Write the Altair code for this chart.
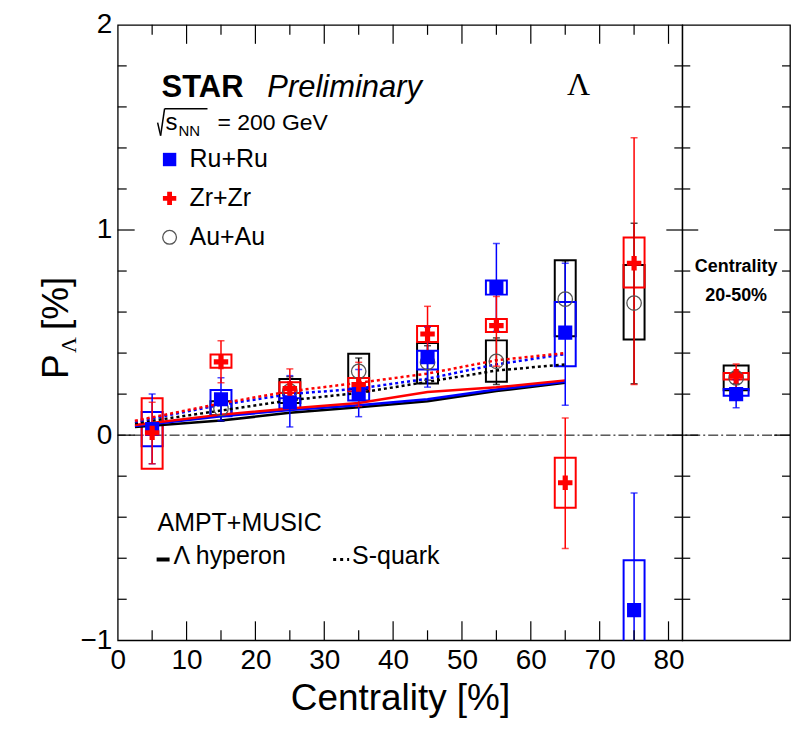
import altair as alt
import pandas as pd

# ---------------- data ----------------
cent = [5, 15, 25, 35, 45, 55, 65, 75]

ru_val     = [0.030, 0.175, 0.160, 0.200, 0.380, 0.720, 0.500, -0.853]
ru_stat_lo = [-0.140, 0.070, 0.040, 0.090, 0.234, 0.506, 0.146, -1.420]
ru_stat_hi = [0.200, 0.280, 0.290, 0.320, 0.526, 0.934, 0.838, -0.282]
ru_sys_lo  = [-0.054, 0.092, 0.130, 0.169, 0.320, 0.685, 0.336, -1.100]
ru_sys_hi  = [0.113, 0.220, 0.180, 0.227, 0.412, 0.754, 0.649, -0.610]

zr_val     = [0.011, 0.357, 0.227, 0.247, 0.493, 0.534, -0.232, 0.838]
zr_stat_lo = [-0.140, 0.255, 0.136, 0.140, 0.352, 0.336, -0.553, 0.247]
zr_stat_hi = [0.160, 0.460, 0.323, 0.355, 0.628, 0.676, 0.084, 1.450]
zr_sys_lo  = [-0.164, 0.328, 0.206, 0.214, 0.454, 0.503, -0.354, 0.720]
zr_sys_hi  = [0.180, 0.393, 0.258, 0.279, 0.532, 0.566, -0.110, 0.963]

au_cent    = [15, 25, 35, 45, 55, 65, 75]
au_val     = [0.130, 0.215, 0.311, 0.355, 0.360, 0.663, 0.644]
au_stat_lo = [0.068, 0.145, 0.246, 0.268, 0.247, 0.474, 0.250]
au_stat_hi = [0.200, 0.285, 0.376, 0.436, 0.474, 0.850, 1.033]
au_sys_lo  = [0.097, 0.157, 0.225, 0.252, 0.260, 0.482, 0.466]
au_sys_hi  = [0.165, 0.274, 0.397, 0.449, 0.462, 0.852, 0.830]

# centrality-integrated (20-50%) values
avg_bin     = ["20-50%"]
ru_avg      = [0.200]
ru_avg_stat = ([0.133], [0.270])
ru_avg_sys  = ([0.192], [0.225])
zr_avg      = [0.287]
zr_avg_stat = ([0.214], [0.347])
zr_avg_sys  = ([0.271], [0.303])
au_avg      = [0.279]
au_avg_stat = ([0.250], [0.310])
au_avg_sys  = ([0.219], [0.339])

# AMPT+MUSIC model curves
model_cent = [2.5, 15, 25, 35, 45, 55, 65]
hyp_ru    = [0.045, 0.092, 0.122, 0.146, 0.175, 0.222, 0.260]
hyp_zr    = [0.050, 0.100, 0.130, 0.157, 0.210, 0.233, 0.267]
hyp_au    = [0.040, 0.071, 0.109, 0.136, 0.165, 0.215, 0.255]
squark_ru = [0.065, 0.148, 0.200, 0.227, 0.275, 0.345, 0.395]
squark_zr = [0.070, 0.155, 0.214, 0.255, 0.300, 0.365, 0.400]
squark_au = [0.058, 0.120, 0.170, 0.206, 0.260, 0.315, 0.345]

# axis tick values
x_labels = [0, 10, 20, 30, 40, 50, 60, 70, 80]
x_major = [10, 20, 30, 40, 50, 60, 70, 80]
x_minor = [5, 15, 25, 35, 45, 55, 65, 75]
y_labels = [-1, 0, 1, 2]
y_major = [0, 1]
y_minor = [-0.8, -0.6, -0.4, -0.2, 0.2, 0.4, 0.6, 0.8, 1.2, 1.4, 1.6, 1.8]

# ---------------- styling ----------------
W, H, WR = 566, 617, 108
BLUE, RED, GREY = "#0000ff", "#ff0000", "#555555"
FONT = "Liberation Sans"
SERIF = "Liberation Serif"
CROSS = "M-0.36,-1H0.36V-0.36H1V0.36H0.36V1H-0.36V0.36H-1V-0.36H-0.36Z"

xs = alt.Scale(domain=[0, 82], nice=False, zero=False, padding=0)
ys = alt.Scale(domain=[-1, 2], nice=False, zero=False, padding=0)
one = pd.DataFrame({"k": [0]})

AX_X = alt.Axis(values=x_labels, title="Centrality [%]", titleFontSize=37,
                titleFontWeight="normal", titlePadding=6, labelFontSize=28,
                labelPadding=6, ticks=False, domain=False, grid=False, labelFlush=False)
AX_Y = alt.Axis(values=y_labels, title=None, labelFontSize=28, labelPadding=6,
                ticks=False, domain=False, grid=False, labelFlush=False)


def mk_enc(main):
    ax_x = AX_X if main else None
    ax_y = AX_Y if main else None

    def X(f="x:Q"):
        return alt.X(f, scale=xs, axis=ax_x)

    def Y(f):
        return alt.Y(f, scale=ys, axis=ax_y)
    return X, Y


Xm, Ym = mk_enc(True)
Xr_unused, Yr = mk_enc(False)


def sdf(x, v, slo, shi, ylo, yhi):
    return pd.DataFrame({"x": x, "v": v, "slo": slo, "shi": shi, "ylo": ylo, "yhi": yhi})


def boxes(df, color, xenc, Y, width):
    return alt.Chart(df).mark_bar(width=width, fillOpacity=0, stroke=color,
                                  strokeWidth=2, clip=True).encode(
        x=xenc, y=Y("ylo:Q"), y2="yhi:Q")


def errbars(df, color, xenc, Y):
    rule = alt.Chart(df).mark_rule(color=color, strokeWidth=1.5, clip=True).encode(
        x=xenc, y=Y("slo:Q"), y2="shi:Q")
    lo = alt.Chart(df).mark_tick(orient="horizontal", size=7, thickness=1.5,
                                 color=color, clip=True).encode(x=xenc, y=Y("slo:Q"))
    hi = alt.Chart(df).mark_tick(orient="horizontal", size=7, thickness=1.5,
                                 color=color, clip=True).encode(x=xenc, y=Y("shi:Q"))
    return [rule, lo, hi]


def markers(df, kind, xenc, Y):
    if kind == "ru":
        m = alt.Chart(df).mark_point(shape="square", filled=True, size=200,
                                     color=BLUE, opacity=1, clip=True)
    elif kind == "zr":
        m = alt.Chart(df).mark_point(shape=CROSS, filled=True, size=210,
                                     color=RED, opacity=1, clip=True)
    else:
        m = alt.Chart(df).mark_point(shape="circle", filled=False, size=210,
                                     color=GREY, strokeWidth=1.3, opacity=1, clip=True)
    return m.encode(x=xenc, y=Y("v:Q"))


def model_line(vals, color, dash=None):
    df = pd.DataFrame({"x": model_cent, "y": vals})
    mk = dict(color=color, strokeWidth=2.5, clip=True)
    if dash:
        mk["strokeDash"] = dash
    return alt.Chart(df).mark_line(**mk).encode(x=Xm(), y=Ym("y:Q"))


def ticks_y(values, x0, x1, Y):
    return alt.Chart(pd.DataFrame({"v": values})).mark_rule(
        color="black", strokeWidth=1.2).encode(y=Y("v:Q"), x=alt.value(x0), x2=alt.value(x1))


def ticks_x(values, y0, y1):
    return alt.Chart(pd.DataFrame({"x": values})).mark_rule(
        color="black", strokeWidth=1.2).encode(x=Xm("x:Q"), y=alt.value(y0), y2=alt.value(y1))


def label(text, x, y, size, font=FONT, weight="normal", style="normal",
          align="left", baseline="alphabetic", angle=0):
    mk = dict(text=text, fontSize=size, font=font, fontWeight=weight,
              fontStyle=style, align=align, baseline=baseline, color="black")
    if angle:
        mk["angle"] = angle
    return alt.Chart(one).mark_text(**mk).encode(x=alt.value(x), y=alt.value(y))


def seg(x0, y0, x1, y1, width=1.5, dash=None, color="black"):
    mk = dict(color=color, strokeWidth=width)
    if dash:
        mk["strokeDash"] = dash
    return alt.Chart(one).mark_rule(**mk).encode(
        x=alt.value(x0), x2=alt.value(x1), y=alt.value(y0), y2=alt.value(y1))


def legend_marker(shape, x, y, filled, color, size=200):
    kw = dict(shape=shape, filled=filled, size=size, color=color, opacity=1)
    if not filled:
        kw["strokeWidth"] = 1.3
    return alt.Chart(one).mark_point(**kw).encode(x=alt.value(x), y=alt.value(y))


# ---------------- main panel ----------------
ru_df = sdf(cent, ru_val, ru_stat_lo, ru_stat_hi, ru_sys_lo, ru_sys_hi)
zr_df = sdf(cent, zr_val, zr_stat_lo, zr_stat_hi, zr_sys_lo, zr_sys_hi)
au_df = sdf(au_cent, au_val, au_stat_lo, au_stat_hi, au_sys_lo, au_sys_hi)

zero_main = alt.Chart(one).mark_rule(color="black", strokeWidth=1,
                                     strokeDash=[10, 3, 2, 3]).encode(
    y=alt.Y(datum=0, scale=ys, axis=AX_Y))

main_layers = [zero_main]
main_layers += [boxes(au_df, "black", Xm(), Ym, 21), boxes(ru_df, BLUE, Xm(), Ym, 21),
                boxes(zr_df, RED, Xm(), Ym, 21)]
main_layers += [model_line(hyp_au, "black"), model_line(hyp_ru, BLUE),
                model_line(hyp_zr, RED),
                model_line(squark_au, "black", [3, 3]),
                model_line(squark_ru, BLUE, [3, 3]),
                model_line(squark_zr, RED, [3, 3])]
main_layers += (errbars(au_df, "black", Xm(), Ym) + errbars(ru_df, BLUE, Xm(), Ym)
                + errbars(zr_df, RED, Xm(), Ym))
main_layers += [markers(au_df, "au", Xm(), Ym), markers(ru_df, "ru", Xm(), Ym),
                markers(zr_df, "zr", Xm(), Ym)]

# frame ticks (inward)
main_layers += [ticks_y(y_major, 0, 17, Ym), ticks_y(y_minor, 0, 9, Ym),
                ticks_y(y_major, W - 16, W, Ym), ticks_y(y_minor, W - 8, W, Ym),
                ticks_x(x_major, 0, 19), ticks_x(x_minor, 0, 10),
                ticks_x(x_major, H - 19, H), ticks_x(x_minor, H - 10, H)]

# texts
main_layers += [
    label("STAR", 44, 72, 31, weight="bold"),
    label("Preliminary", 150, 72, 31, style="italic"),
    seg(40, 98, 43, 111), seg(43, 111, 47, 84), seg(47, 84, 90, 84),
    label("s", 48, 105, 24),
    label("NN", 61, 111, 15),
    label("= 200 GeV", 100, 105, 23),
    legend_marker("square", 52, 135, True, BLUE, 180),
    label("Ru+Ru", 72, 143, 25),
    legend_marker(CROSS, 52, 174, True, RED, 180),
    label("Zr+Zr", 72, 182, 25),
    legend_marker("circle", 52, 213, False, GREY, 190),
    label("Au+Au", 72, 221, 25),
    label("Λ", 462, 70, 32, font=SERIF, align="center"),
    label("AMPT+MUSIC", 40, 507, 25),
    seg(39, 536, 52, 536, width=4),
    label("Λ hyperon", 56, 541, 25, font=FONT),
    seg(216, 536, 232, 536, width=3, dash=[3, 4]),
    label("S-quark", 235, 541, 25),
    # y-axis title  P_Λ [%]
    label("P", -50, 355, 37, angle=270),
    label("Λ", -42, 329, 22, font=SERIF, angle=270),
    label("[%]", -50, 306, 37, angle=270),
]

main = alt.layer(*main_layers).properties(width=W, height=H)

# ---------------- right panel (20-50%) ----------------
XR = alt.X("c:N", axis=None, scale=alt.Scale(domain=avg_bin))


def adf(v, stat, sys):
    return pd.DataFrame({"c": avg_bin, "v": v, "slo": stat[0], "shi": stat[1],
                         "ylo": sys[0], "yhi": sys[1]})


ru_a = adf(ru_avg, ru_avg_stat, ru_avg_sys)
zr_a = adf(zr_avg, zr_avg_stat, zr_avg_sys)
au_a = adf(au_avg, au_avg_stat, au_avg_sys)

zero_r = alt.Chart(one).mark_rule(color="black", strokeWidth=1,
                                  strokeDash=[10, 3, 2, 3]).encode(
    y=alt.Y(datum=0, scale=ys, axis=None))

right_layers = [zero_r,
                boxes(au_a, "black", XR, Yr, 25), boxes(ru_a, BLUE, XR, Yr, 25),
                boxes(zr_a, RED, XR, Yr, 25)]
right_layers += (errbars(au_a, "black", XR, Yr) + errbars(ru_a, BLUE, XR, Yr)
                 + errbars(zr_a, RED, XR, Yr))
right_layers += [markers(au_a, "au", XR, Yr), markers(ru_a, "ru", XR, Yr),
                 markers(zr_a, "zr", XR, Yr)]
right_layers += [ticks_y(y_major, 0, 16, Yr), ticks_y(y_minor, 0, 8, Yr),
                 ticks_y(y_major, WR - 16, WR, Yr), ticks_y(y_minor, WR - 8, WR, Yr)]
right_layers += [label("Centrality", WR / 2, 248, 18, weight="bold", align="center"),
                 label("20-50%", WR / 2, 277, 18, weight="bold", align="center")]

right = alt.layer(*right_layers).properties(width=WR, height=H)

chart = alt.hconcat(main, right, spacing=0, bounds="flush").properties(
    padding={"left": 29, "top": 1, "right": 0, "bottom": 0}
).configure(font=FONT).configure_view(
    stroke="black", strokeWidth=1.3
).configure_axis(labelFont=FONT, titleFont=FONT, labelColor="black", titleColor="black")

chart.save("out.html", embed_options={"renderer": "svg", "actions": False})
